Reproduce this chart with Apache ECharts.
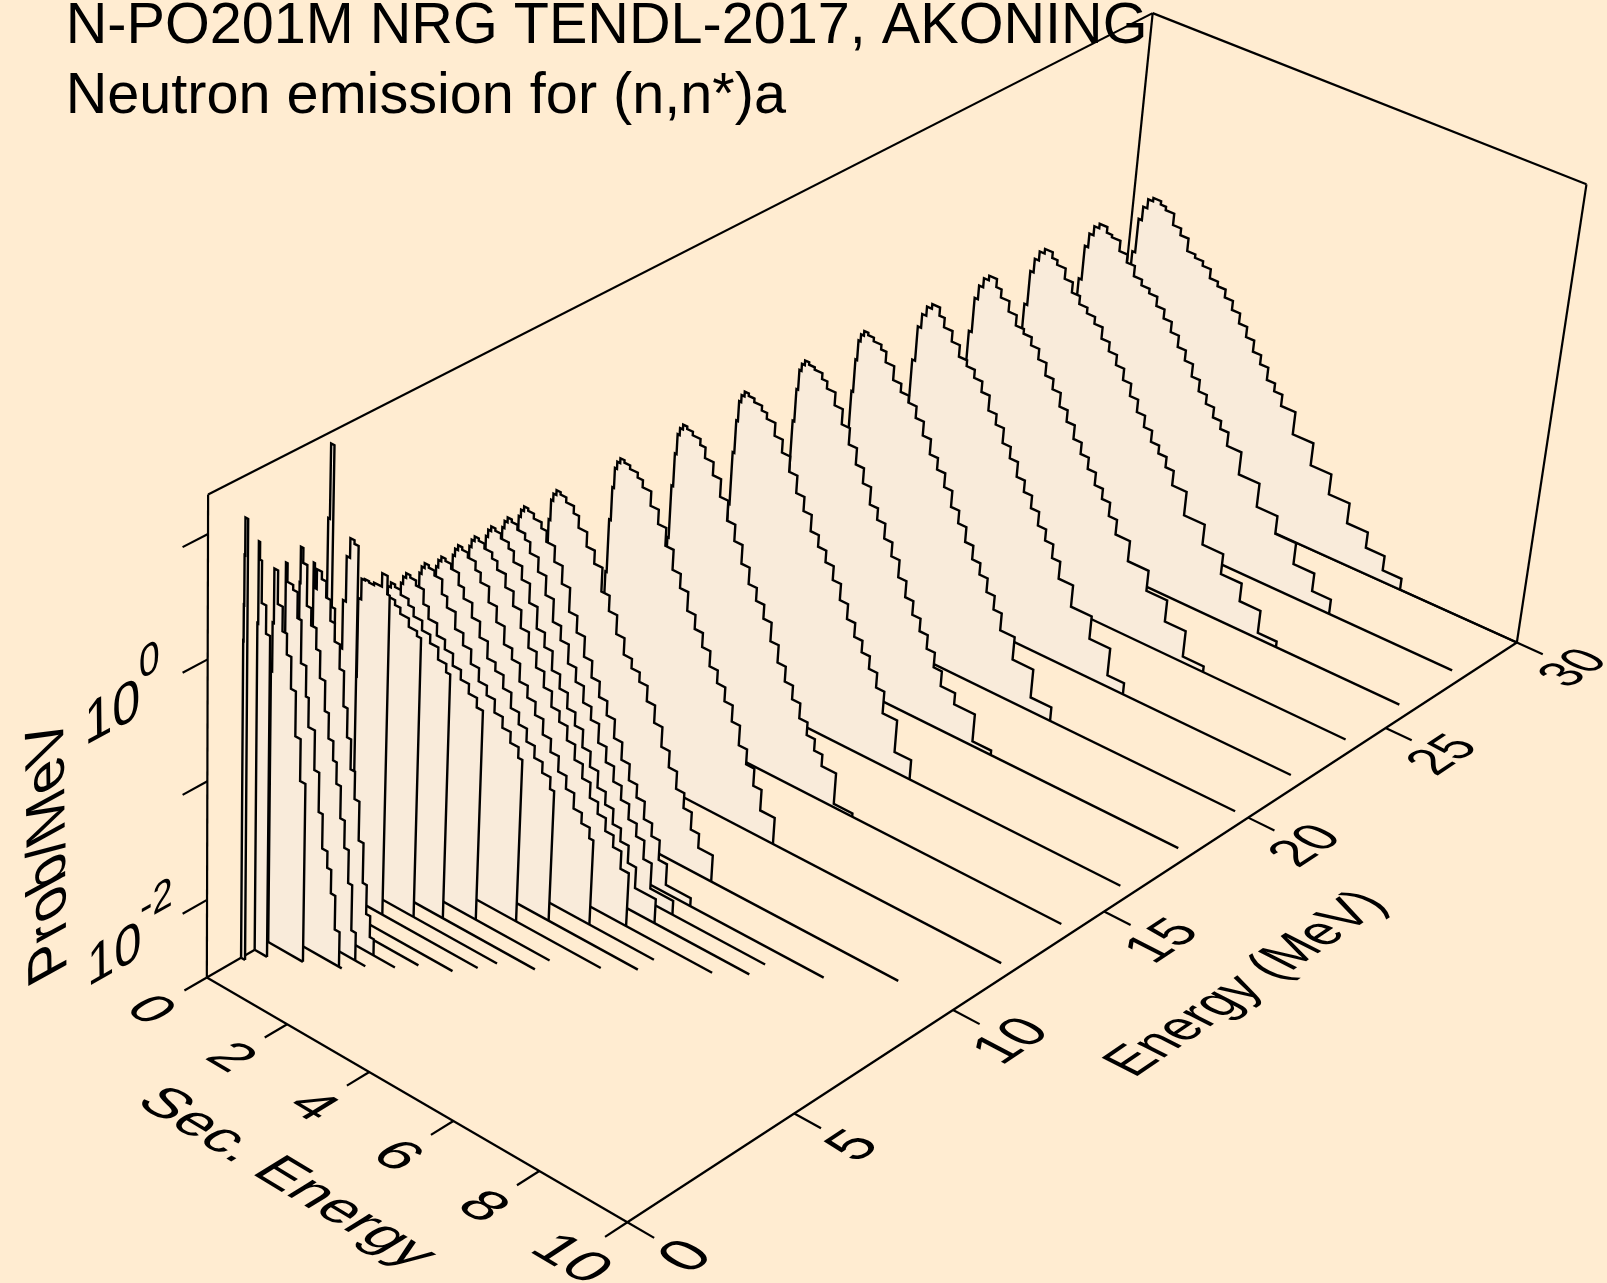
<!DOCTYPE html>
<html><head><meta charset="utf-8">
<style>html,body{margin:0;padding:0;background:#ffecd1}#c{width:1607px;height:1283px}</style>
<script src="https://cdn.jsdelivr.net/npm/echarts@6/dist/echarts.min.js"></script>
</head><body><div id="c"></div>
<script>
// ---- values -----------------------------------------------------------
const titleLines = ['N-PO201M NRG TENDL-2017, AKONING', 'Neutron emission for (n,n*)a'];
const axisNames = {sec:'Sec. Energy', energy:'Energy (MeV)', prob:'Prob/MeV'};
const secTicks = [0,2,4,6,8,10];
const energyTicks = [0,5,10,15,20,25,30];
const logTicks = [1,0,-1,-2];
const logLabels = [0,-2];
const FLOOR_LOG10 = -2.67;   // log10(Prob/MeV) at the floor
const TOP_DECADES = 3.98;    // height of the walls, decades above the floor

// shared secondary-energy bin edges (MeV)
const secBins = [0,.1,.17,.25,.35,.47,.66,.79,1,1.2,1.4,1.6,1.8,2,2.2,2.4,2.6,2.8,3,3.2,3.4,3.6,3.8,4,4.35,4.85,5.35,5.85,6.35,6.8,7.25];
const secBinsLow = [0,.03,.07,.11,.16,.23,.33,.47,.66,.79,1,1.2,1.4,1.6,1.8,2,2.2,2.4,2.6,2.8,3,3.2,3.4,3.6,3.8,4,4.35,4.85,5.35,5.85];

// spectrum heights, decades above the floor, one value per bin
const h30 = [1.43,1.91,2.21,2.33,2.41,2.44,2.41,2.38,2.28,2.22,2.11,2.08,2.04,1.96,1.92,1.85,1.77,1.68,1.59,1.49,1.41,1.30,1.23,1.13,.93,.73,.55,.37,.23,.10];
const h28 = [1.46,1.93,2.23,2.35,2.43,2.47,2.42,2.40,2.31,2.24,2.15,2.10,2.06,1.98,1.90,1.81,1.71,1.62,1.51,1.41,1.33,1.24,1.17,1.05,.85,.64,.48,.29,.13];
const h26 = [1.50,1.97,2.27,2.39,2.47,2.51,2.46,2.42,2.33,2.24,2.17,2.12,2.06,1.96,1.88,1.79,1.69,1.58,1.47,1.37,1.27,1.20,1.11,.98,.77,.59,.41,.25,.05];
const h24 = [1.53,2.00,2.30,2.42,2.50,2.54,2.47,2.40,2.31,2.22,2.18,2.11,2.02,1.91,1.82,1.70,1.60,1.48,1.38,1.28,1.17,1.08,.96,.83,.65,.47,.28,.05];
const h22 = [1.55,2.02,2.32,2.44,2.52,2.56,2.49,2.41,2.32,2.22,2.17,2.10,2.01,1.88,1.79,1.66,1.56,1.43,1.33,1.22,1.10,1.00,.88,.73,.54,.34,.10];
const h20 = [1.56,2.01,2.29,2.46,2.52,2.56,2.54,2.51,2.47,2.38,2.26,2.19,2.13,2.03,1.91,1.78,1.68,1.56,1.42,1.31,1.18,1.06,.96,.84,.72,.57,.37,.12];
const h18 = [1.58,2.03,2.31,2.48,2.54,2.58,2.56,2.54,2.49,2.43,2.32,2.19,2.05,1.91,1.78,1.63,1.53,1.40,1.28,1.13,.99,.87,.76,.64,.51,.38,.28,.04];
const h16 = [1.59,2.04,2.32,2.49,2.55,2.59,2.57,2.54,2.50,2.45,2.34,2.23,2.10,1.95,1.83,1.69,1.59,1.49,1.37,1.23,1.10,.98,.88,.77,.64,.45,.17];
const h14 = [1.59,2.04,2.32,2.49,2.55,2.59,2.57,2.54,2.49,2.40,2.29,2.14,1.97,1.83,1.67,1.53,1.42,1.30,1.14,.99,.86,.74,.61,.50,.40,.30,.03];
const h12 = [1.59,2.04,2.32,2.49,2.55,2.59,2.57,2.54,2.50,2.44,2.32,2.20,2.05,1.88,1.76,1.60,1.48,1.36,1.23,1.12,1.00,.86,.69,.56,.41,.23];
const h10 = [1.61,2.06,2.34,2.51,2.57,2.61,2.59,2.55,2.49,2.39,2.27,2.16,1.96,1.83,1.67,1.53,1.45,1.37,1.24,1.09,.92,.78,.63,.50,.35,.23];
const h9  = [1.62,2.07,2.35,2.52,2.58,2.62,2.60,2.56,2.51,2.42,2.29,2.14,1.94,1.80,1.63,1.49,1.36,1.24,1.08,.93,.79,.68,.53,.42,.25,.07];
const h85 = [1.60,2.05,2.33,2.50,2.56,2.60,2.58,2.54,2.49,2.40,2.28,2.12,1.93,1.81,1.65,1.53,1.39,1.28,1.12,.99,.86,.74,.61,.50,.34,.12];
const h8  = [1.60,2.05,2.33,2.50,2.56,2.60,2.58,2.54,2.49,2.40,2.29,2.13,1.95,1.83,1.67,1.55,1.42,1.31,1.16,1.03,.89,.78,.65,.54,.39,.21];
const h75 = [1.59,2.04,2.32,2.49,2.55,2.59,2.57,2.53,2.48,2.41,2.30,2.18,2.03,1.90,1.77,1.64,1.51,1.42,1.30,1.17,1.05,.92,.82,.71,.61,.46];
const h7  = [1.59,2.04,2.32,2.49,2.55,2.59,2.57,2.53,2.46,2.38,2.25,2.12,1.97,1.88,1.73,1.63,1.52,1.39,1.28,1.15,1.04,.91,.82,.73];
const h65 = [1.57,2.02,2.30,2.47,2.53,2.57,2.55,2.51,2.41,2.32,2.20,2.07,1.93,1.86,1.75,1.62,1.52,1.41,1.31,1.22,1.12];
const h6  = [1.59,2.04,2.32,2.49,2.55,2.59,2.57,2.53,2.41,2.32,2.18,2.08,1.96,1.85,1.77,1.66,1.57,1.48,1.39];
const h55 = [1.59,2.04,2.32,2.49,2.55,2.59,2.57,2.53,2.41,2.31,2.21,2.13,2.03,1.95,1.87,1.79];
const h5  = [1.58,2.03,2.31,2.48,2.54,2.58,2.56,2.52,2.47,2.40,2.32,2.25,2.15,2.08];
const h46 = [1.62,2.07,2.35,2.52,2.58,2.62,2.60,2.57,2.53,2.48,2.41,2.37];
const h42 = [1.90,2.55,2.72,2.73,2.72,2.74,2.85,2.70];
const h38 = [2.20,2.60,2.97,3.13,3.10];
const h34 = [3.30,3.90,2.60];
const h3  = [3.00,2.80,2.96,2.90,2.77,2.60,2.45,2.25,1.96,1.72,1.47,1.24,.91,.57,.32,.14];
const h26l= [2.90,3.19,3.07,2.74,2.60,2.43,2.21,1.96,1.75,1.59,1.41,1.14,.91,.63,.24];
const h22l= [3.12,2.97,2.93,2.72,2.37,2.12,1.88,1.55,1.22,.93,.79,.59,.30];
const h18l= [2.30,2.70,3.14,2.87,2.67,2.50,2.24,1.87,1.52];
const h14l= [2.75,3.41,3.27,2.93,2.70];
const h1  = [2.67,2.96,3.36,3.66];

// bin edges of the low-energy spectra, which use their own narrow bins
const s34 = [0,.04,.12,.2];
const s3  = [0,.03,.08,.2,.31,.42,.53,.66,.77,.87,.97,1.08,1.2,1.32,1.42,1.52,1.62];
const s26 = [0,.02,.08,.18,.29,.42,.52,.65,.75,.87,.96,1.07,1.18,1.29,1.39,1.5];
const s22 = [0,.04,.18,.29,.39,.52,.59,.75,.87,.97,1.1,1.2,1.31,1.43];
const s18 = [0,.03,.06,.15,.27,.38,.49,.61,.74,.87];
const s14 = [0,.02,.05,.1,.21,.31];
const s1  = [0,.01,.02,.035,.1];

// incident energies, back to front
const incident = [30,28,26,24,22,20,18,16,14,12,10,9,8.5,8,7.5,7,6.5,6,5.45,5,4.6,4.2,3.75,3.4,3,2.6,2.2,1.8,1.4,1];
const heights  = [h30,h28,h26,h24,h22,h20,h18,h16,h14,h12,h10,h9,h85,h8,h75,h7,h65,h6,h55,h5,h46,h42,h38,h34,h3,h26l,h22l,h18l,h14l,h1];
const binSets  = {20:secBinsLow,18:secBinsLow,16:secBinsLow,14:secBinsLow,12:secBinsLow,10:secBinsLow,9:secBinsLow,8.5:secBinsLow,8:secBinsLow,7.5:secBinsLow,7:secBinsLow,6.5:secBinsLow,6:secBinsLow,5.45:secBinsLow,5:secBinsLow,4.6:secBinsLow,3.4:s34,3:s3,2.6:s26,2.2:s22,1.8:s18,1.4:s14,1:s1};
// last edge of the drawn histogram, where it differs from the bin grid
const lastEdge = {22:5.75,18:5.3,16:4.75,14:4.8,9:4.6,8.5:4.55,8:4.5,7.5:4.2,7:3.7,6.5:3.1,6:2.7,5.45:2.15,5:1.7,4.6:1.3,4.2:.85,3.75:.45};
// how far each spectrum's line runs along the floor
const floorEnd = [10,9.7,9.7,9.7,9.7,9.7,9.7,9.7,9.7,9.7,8.75,7.75,6.75,6.75,6.25,5.25,5.25,4.75,3.95,3.95,3.35,3.2,2.95,2.4,2.15,1.75,1.5,.87,.31,.1];

// camera calibration: [Sec, Energy, decades] -> page position of box corners and ticks
const cameraAnchors = [
 [0,0,0,207.7,979.3],[10,0,0,626,1221],[10,30,0,1516.7,643.3],[0,30,0,1106,456],
 [0,0,3.98,207.7,495],[0,30,3.98,1153,13.3],[10,30,3.98,1586.5,184.5],
 [10,5,0,795,1111.7],[10,10,0,953.3,1010],[10,15,0,1105,911.7],[10,20,0,1248,818],[10,25,0,1386,728],
 [2,0,0,287.2,1025],[4,0,0,368.8,1072.3],[6,0,0,453,1121.7],[8,0,0,539,1171.7],
 [0,0,.67,207.7,899],[0,0,1.67,207.7,780],[0,0,2.67,207.7,659],[0,0,3.67,207.7,534]
];

// ---- palette / style -----------------------------------------------------
const BG = '#ffecd1', FILL = '#f9ebda', INK = '#000000', FONT = '"Liberation Sans",Arial,sans-serif';
const LW = 2.4, BOXW = 2.2;

// ---- projection ------------------------------------------------------------
function solveCamera(){
  const n=11, A=[...Array(n)].map(()=>Array(n+1).fill(0));
  const add=(r,b)=>{for(let i=0;i<n;i++){for(let j=0;j<n;j++)A[i][j]+=r[i]*r[j];A[i][n]+=r[i]*b;}};
  cameraAnchors.forEach(([S,E,Z,x,y])=>{
    const X=S/10,Y=E/30,W=Z/4,u=x/1000,v=y/1000;
    add([X,Y,W,1,0,0,0,0,-u*X,-u*Y,-u*W],u);
    add([0,0,0,0,X,Y,W,1,-v*X,-v*Y,-v*W],v);
  });
  for(let i=0;i<n;i++){
    let p=i;for(let r=i+1;r<n;r++)if(Math.abs(A[r][i])>Math.abs(A[p][i]))p=r;
    [A[i],A[p]]=[A[p],A[i]];
    for(let r=0;r<n;r++)if(r!==i){const f=A[r][i]/A[i][i];for(let c=i;c<=n;c++)A[r][c]-=f*A[i][c];}
  }
  return A.map((row,i)=>row[n]/row[i]);
}
const cam=solveCamera();
function P3(S,E,Z){
  const X=S/10,Y=E/30,W=Z/4,d=cam[8]*X+cam[9]*Y+cam[10]*W+1;
  return [1000*(cam[0]*X+cam[1]*Y+cam[2]*W+cam[3])/d,1000*(cam[4]*X+cam[5]*Y+cam[6]*W+cam[7])/d];
}

// ---- builders --------------------------------------------------------------
const curves = incident.map((E,i)=>{
  const lev=heights[i], edges=binSets[E]||secBins;
  const pts=[[0,E,0]];
  lev.forEach((v,k)=>{
    const a=edges[k]; let b=edges[k+1];
    if(k===lev.length-1&&lastEdge[E]!=null)b=lastEdge[E];
    pts.push([a,E,v],[b,E,v]);
  });
  const tail=pts[pts.length-1][0];
  pts.push([tail,E,0]);
  return {E,pts,tail,end:Math.max(floorEnd[i],tail)};
});

const decade=v=>v-FLOOR_LOG10;
const seg=(a,b)=>[a,b];
const backSegs=[
 seg([0,0,0],[0,0,TOP_DECADES]),seg([0,0,TOP_DECADES],[0,30,TOP_DECADES]),
 seg([0,30,TOP_DECADES],[10,30,TOP_DECADES]),seg([10,30,TOP_DECADES],[10,30,0]),
 seg([0,30,TOP_DECADES],[0,30,0]),seg([0,0,0],[0,30,0]),seg([0,30,0],[10,30,0])
].concat(logTicks.map(v=>seg([0,0,decade(v)],[0,-.7,decade(v)])));
const frontSegs=[seg([0,0,0],[10,0,0]),seg([10,0,0],[10,30,0])]
 .concat(secTicks.map(s=>seg([s,0,0],[s,-.65,0])))
 .concat(energyTicks.map(e=>seg([10,e,0],[10.6,e,0])));

// text lying on a plane of the box: u = world vector per em along the baseline, v = per em upward
const L=[];
secTicks.forEach(s=>L.push({t:String(s),at:[s,-1.66,0],u:[1.2,0,0],v:[0,1.35,0],align:'center',mid:true}));
energyTicks.forEach(e=>L.push({t:String(e),at:[11.34,e,0],u:[0,1.5,0],v:[-1.15,0,0],align:'center',mid:true}));
L.push({t:axisNames.sec,at:[5.1,-3.7,0],u:[1.2,0,0],v:[0,1.35,0],align:'center',mid:true});
L.push({t:axisNames.energy,at:[13.2,15,0],u:[0,1.42,0],v:[-1.15,0,0],align:'center',mid:true});
L.push({t:axisNames.prob,at:[0,-3.85,1.82],u:[0,0,.47],v:[0,-1.5,0],align:'center',mid:false});
logLabels.forEach(v=>{
  const z=decade(v)-.2;
  L.push({t:'10',at:[0,-3.4,z],u:[0,1.375,0],v:[0,0,.47],align:'left',mid:false});
  L.push({t:String(v),at:[0,-3.4+1.5,z+.3],u:[0,1.03,0],v:[0,0,.36],align:'left',mid:false});
});

const F=40;
function textNode(api,l){
  const add=(a,b)=>a.map((x,i)=>x+b[i]);
  const p0=P3(...l.at),pu=P3(...add(l.at,l.u)),pv=P3(...add(l.at,l.v));
  const a=(pu[0]-p0[0])/F,c=(pu[1]-p0[1])/F,b=-(pv[0]-p0[0])/F,d=-(pv[1]-p0[1])/F;
  const E=(a+d)/2,Fq=(a-d)/2,G=(c+b)/2,H=(c-b)/2,Q=Math.hypot(E,H),R=Math.hypot(Fq,G);
  const sx=Q+R,sy=Q-R,a1=Math.atan2(G,Fq),a2=Math.atan2(H,E),th=(a2-a1)/2,ph=(a2+a1)/2;
  const o=api.coord(p0);
  return {type:'group',x:o[0],y:o[1],rotation:-ph,scaleX:sx,scaleY:sy,children:[
    {type:'group',rotation:-th,children:[
      {type:'text',x:0,y:l.mid?0:-0.35*F,style:{text:l.t,fontFamily:FONT,fontSize:F,fill:INK,align:l.align,verticalAlign:'middle'}}
    ]}
  ]};
}
const line=(api,a,b,w)=>({type:'polyline',shape:{points:[api.coord(P3(...a)),api.coord(P3(...b))]},style:{stroke:INK,lineWidth:w,fill:null}});

// ---- chart -----------------------------------------------------------------
const chart=echarts.init(document.getElementById('c'),null,{renderer:'canvas',width:1607,height:1283});
chart.setOption({
  animation:false,backgroundColor:BG,
  title:[
    {text:titleLines[0],left:60.7,top:-7,textStyle:{fontFamily:FONT,fontSize:57.6,fontWeight:'normal',color:INK}},
    {text:titleLines[1],left:60.7,top:63,textStyle:{fontFamily:FONT,fontSize:57.6,fontWeight:'normal',color:INK}}
  ],
  grid:{left:0,right:0,top:0,bottom:0},
  xAxis:{type:'value',min:0,max:1607,show:false},
  yAxis:{type:'value',min:0,max:1283,inverse:true,show:false},
  series:[
    {type:'custom',coordinateSystem:'cartesian2d',clip:false,silent:true,z:1,data:backSegs.map((_,i)=>[i]),
     renderItem:(p,api)=>{const s=backSegs[api.value(0)];return line(api,s[0],s[1],BOXW);}},
    {type:'custom',coordinateSystem:'cartesian2d',clip:false,silent:true,z:2,data:curves.map((_,i)=>[i]),
     renderItem:(p,api)=>{
       const c=curves[api.value(0)],pts=c.pts.map(q=>api.coord(P3(...q)));
       return {type:'group',children:[
         {type:'polygon',shape:{points:pts},style:{fill:FILL,stroke:null}},
         {type:'polyline',shape:{points:pts},style:{stroke:INK,lineWidth:LW,fill:null,lineJoin:'miter'}},
         line(api,[0,c.E,0],[c.end,c.E,0],LW)
       ]};
     }},
    {type:'custom',coordinateSystem:'cartesian2d',clip:false,silent:true,z:3,data:frontSegs.map((_,i)=>[i]),
     renderItem:(p,api)=>{const s=frontSegs[api.value(0)];return line(api,s[0],s[1],BOXW);}},
    {type:'custom',coordinateSystem:'cartesian2d',clip:false,silent:true,z:4,data:L.map((_,i)=>[i]),
     renderItem:(p,api)=>textNode(api,L[api.value(0)])}
  ]
});
</script></body></html>
